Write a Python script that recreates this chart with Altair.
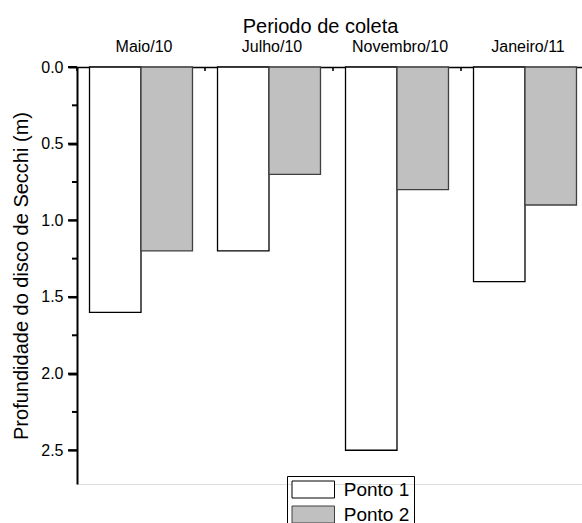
import altair as alt
import pandas as pd

# Secchi disc depth (m) per sampling period and site
periods = ["Maio/10", "Julho/10", "Novembro/10", "Janeiro/11"]
ponto1 = [1.6, 1.2, 2.5, 1.4]
ponto2 = [1.2, 0.7, 0.8, 0.9]
series = ["Ponto 1", "Ponto 2"]
major_ticks = [0.0, 0.5, 1.0, 1.5, 2.0, 2.5]
minor_ticks = [0.25, 0.75, 1.25, 1.75, 2.25]

rows = []
for p, a, b in zip(periods, ponto1, ponto2):
    rows.append({"periodo": p, "ponto": series[0], "prof": a})
    rows.append({"periodo": p, "ponto": series[1], "prof": b})
df = pd.DataFrame(rows)
bounds = pd.DataFrame({"periodo": periods})
major = pd.DataFrame({"prof": major_ticks})
minor = pd.DataFrame({"prof": minor_ticks})

FONT = "Liberation Sans"
LINE_W = 2

x_scale = alt.Scale(domain=periods, range=[0, 512], paddingInner=0, paddingOuter=0)
y_scale = alt.Scale(domain=[0, 2.72], reverse=True, nice=False, zero=True)

bars = alt.Chart(df).mark_bar(strokeWidth=1.3).encode(
    x=alt.X(
        "periodo:N",
        scale=x_scale,
        sort=periods,
        axis=alt.Axis(
            orient="top",
            title="Periodo de coleta",
            titleFontSize=20,
            titleFontWeight="normal",
            titlePadding=2,
            titleX=243,
            labelFontSize=16,
            labelAngle=0,
            labelPadding=13,
            labelOffset=3,
            ticks=False,
            tickSize=0,
            domainColor="#000000",
            domainWidth=1.6,
            grid=False,
        ),
    ),
    xOffset=alt.XOffset(
        "ponto:N",
        sort=series,
        scale=alt.Scale(paddingInner=0, paddingOuter=0.243),
    ),
    y=alt.Y(
        "prof:Q",
        scale=y_scale,
        axis=alt.Axis(
            title="Profundidade do disco de Secchi (m)",
            titleFontSize=20,
            titleFontWeight="normal",
            titlePadding=9,
            values=major_ticks,
            format=".1f",
            labelFontSize=16,
            labelPadding=5,
            tickSize=9,
            tickColor="#000000",
            tickWidth=LINE_W,
            domainColor="#000000",
            domainWidth=LINE_W,
            grid=False,
        ),
    ),
    fill=alt.Fill(
        "ponto:N",
        scale=alt.Scale(domain=series, range=["#ffffff", "#c0c0c0"]),
        legend=alt.Legend(
            title=None,
            orient="none",
            legendX=210,
            legendY=409,
            strokeColor="black",
            padding=4,
            symbolType="M-2.5,-1H2.5V1H-2.5Z",
            symbolSize=289,
            symbolOffset=12.75,
            symbolStrokeColor="black",
            symbolStrokeWidth=1,
            labelFontSize=19,
            labelOffset=21,
            rowPadding=4,
        ),
    ),
    stroke=alt.Stroke(
        "ponto:N",
        scale=alt.Scale(domain=series, range=["#000000", "#404040"]),
        legend=None,
    ),
)

# outward ticks on the depth axis: long at labelled values, short in between
major_marks = alt.Chart(major).mark_rule(color="#000000", strokeWidth=LINE_W).encode(
    y=alt.Y("prof:Q", scale=y_scale),
    x=alt.value(-9),
    x2=alt.value(0),
)
minor_marks = alt.Chart(minor).mark_rule(color="#000000", strokeWidth=LINE_W).encode(
    y=alt.Y("prof:Q", scale=y_scale),
    x=alt.value(-5),
    x2=alt.value(0),
)

# small inward ticks on the top axis at each period boundary
edges = alt.Chart(bounds).mark_rule(color="#000000", strokeWidth=1.6).encode(
    x=alt.X("periodo:N", scale=x_scale, sort=periods, bandPosition=0),
    y=alt.value(0),
    y2=alt.value(4),
)

chart = (
    alt.layer(bars, major_marks, minor_marks, edges)
    .properties(
        width=505,
        height=417,
        autosize=alt.AutoSizeParams(type="none"),
        padding={"left": 77, "top": 67, "right": 0, "bottom": 39},
    )
    .configure_view(stroke=None)
    .configure(font=FONT, background="white")
    .configure_axis(labelColor="black", titleColor="black", labelFont=FONT, titleFont=FONT)
    .configure_legend(labelFont=FONT, labelColor="black")
)

chart.save("out.html", embed_options={"renderer": "svg", "actions": False})
